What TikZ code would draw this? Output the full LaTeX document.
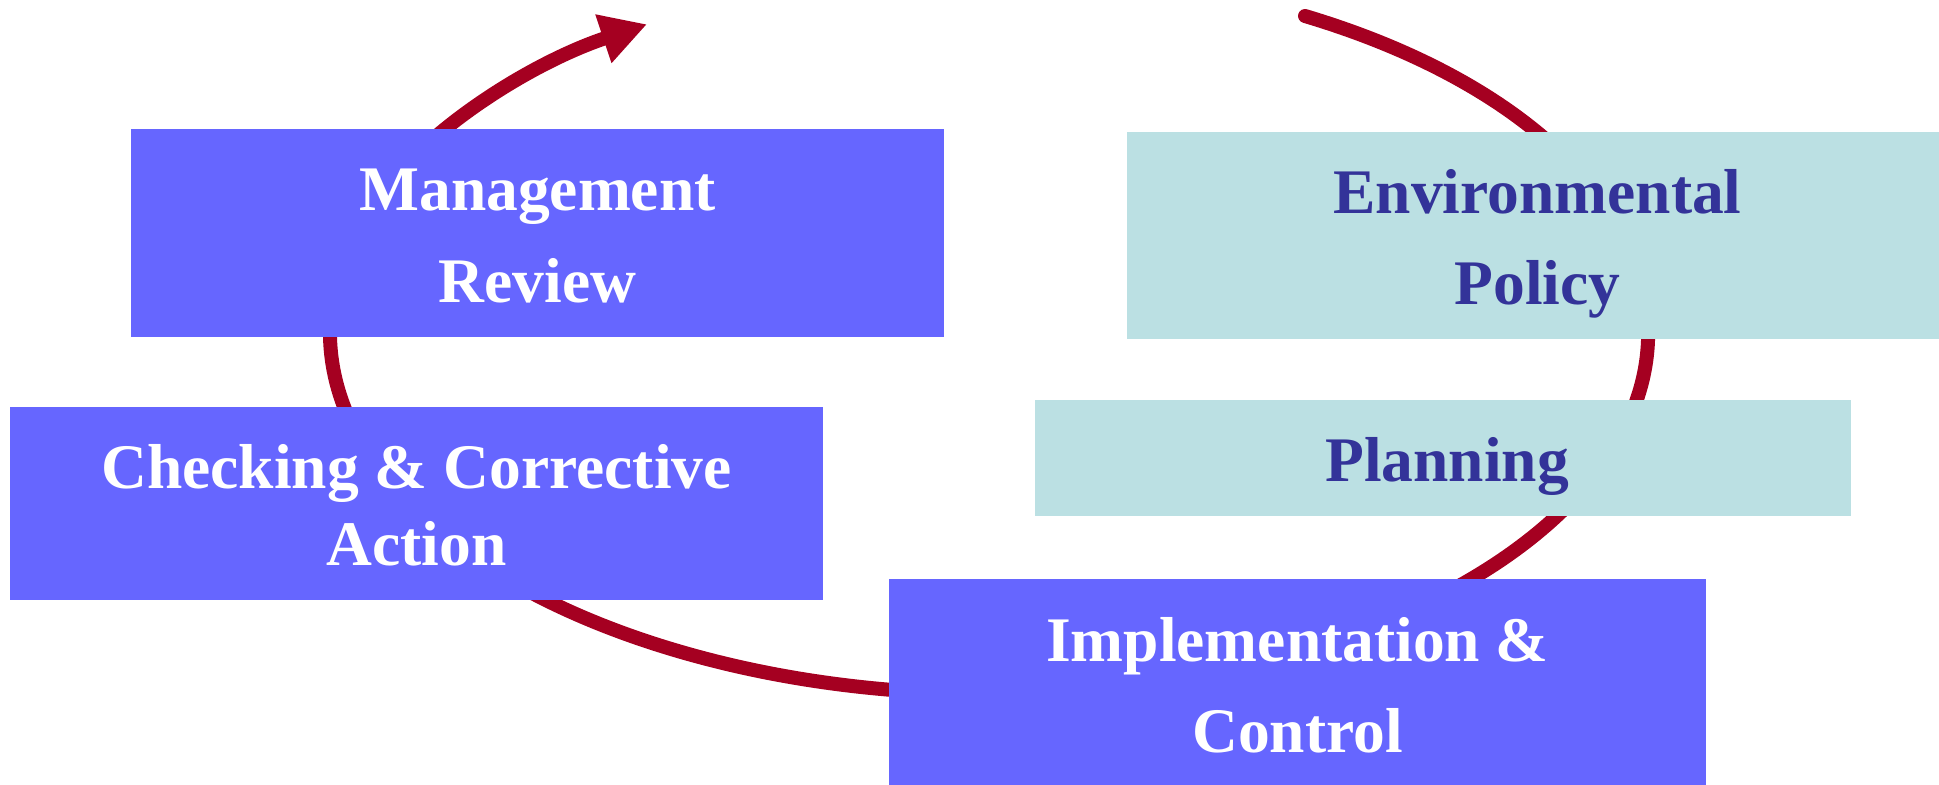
\documentclass[tikz,border=0pt]{standalone}
\usepackage{fontspec}
\setmainfont{Liberation Serif}
\usetikzlibrary{arrows.meta}
\definecolor{boxblue}{HTML}{6666FF}
\definecolor{boxcyan}{HTML}{BBE0E3}
\definecolor{txtblue}{HTML}{333399}
\definecolor{arcred}{HTML}{A50021}
\begin{document}
\begin{tikzpicture}[x=0.5pt,y=0.5pt,
  bluebox/.style={rectangle,fill=boxblue,draw=none,inner sep=0pt},
  cyanbox/.style={rectangle,fill=boxcyan,draw=none,inner sep=0pt},
  lbl/.style={anchor=base,inner sep=0pt,font=\fontsize{31.75}{38}\selectfont\bfseries},
  wlbl/.style={lbl,text=white},
  dlbl/.style={lbl,text=txtblue},
  arcline/.style={draw=arcred,line width=7pt,line cap=round,
    -{Triangle[length=23pt,width=24pt]}}
]
\useasboundingbox (0,0) rectangle (1939,784);
% cycle arc (behind the boxes)
\coordinate (arcstart) at (1305,768);
\draw[arcline] (arcstart) arc[start angle=61.35,end angle=-238.73,x radius=659,y radius=361];
% boxes
\node[bluebox,minimum width=406.5pt,minimum height=104pt] (mr) at (537.5,551) {};
\node[cyanbox,minimum width=410.5pt,minimum height=103.5pt] (ep) at (1537.5,548.5) {};
\node[bluebox,minimum width=406.5pt,minimum height=96.5pt] (cc) at (416.5,280.5) {};
\node[cyanbox,minimum width=408pt,minimum height=58pt] (pl) at (1443,326) {};
\node[bluebox,minimum width=408.5pt,minimum height=106pt] (ic) at (1297.5,99) {};
% texts
\node[wlbl] (mr1) at (537.5,574) {Management};
\node[wlbl] (mr2) at (537.5,482) {Review};
\node[dlbl] (ep1) at (1537.5,571) {Environmental};
\node[dlbl] (ep2) at (1537.5,480) {Policy};
\node[wlbl] (cc1) at (416.5,296) {Checking \& Corrective};
\node[wlbl] (cc2) at (416.5,219) {Action};
\node[dlbl] (pl1) at (1447,303) {Planning};
\node[wlbl] (ic1) at (1297.5,123) {Implementation \&};
\node[wlbl] (ic2) at (1297.5,32) {Control};
\end{tikzpicture}
\end{document}
